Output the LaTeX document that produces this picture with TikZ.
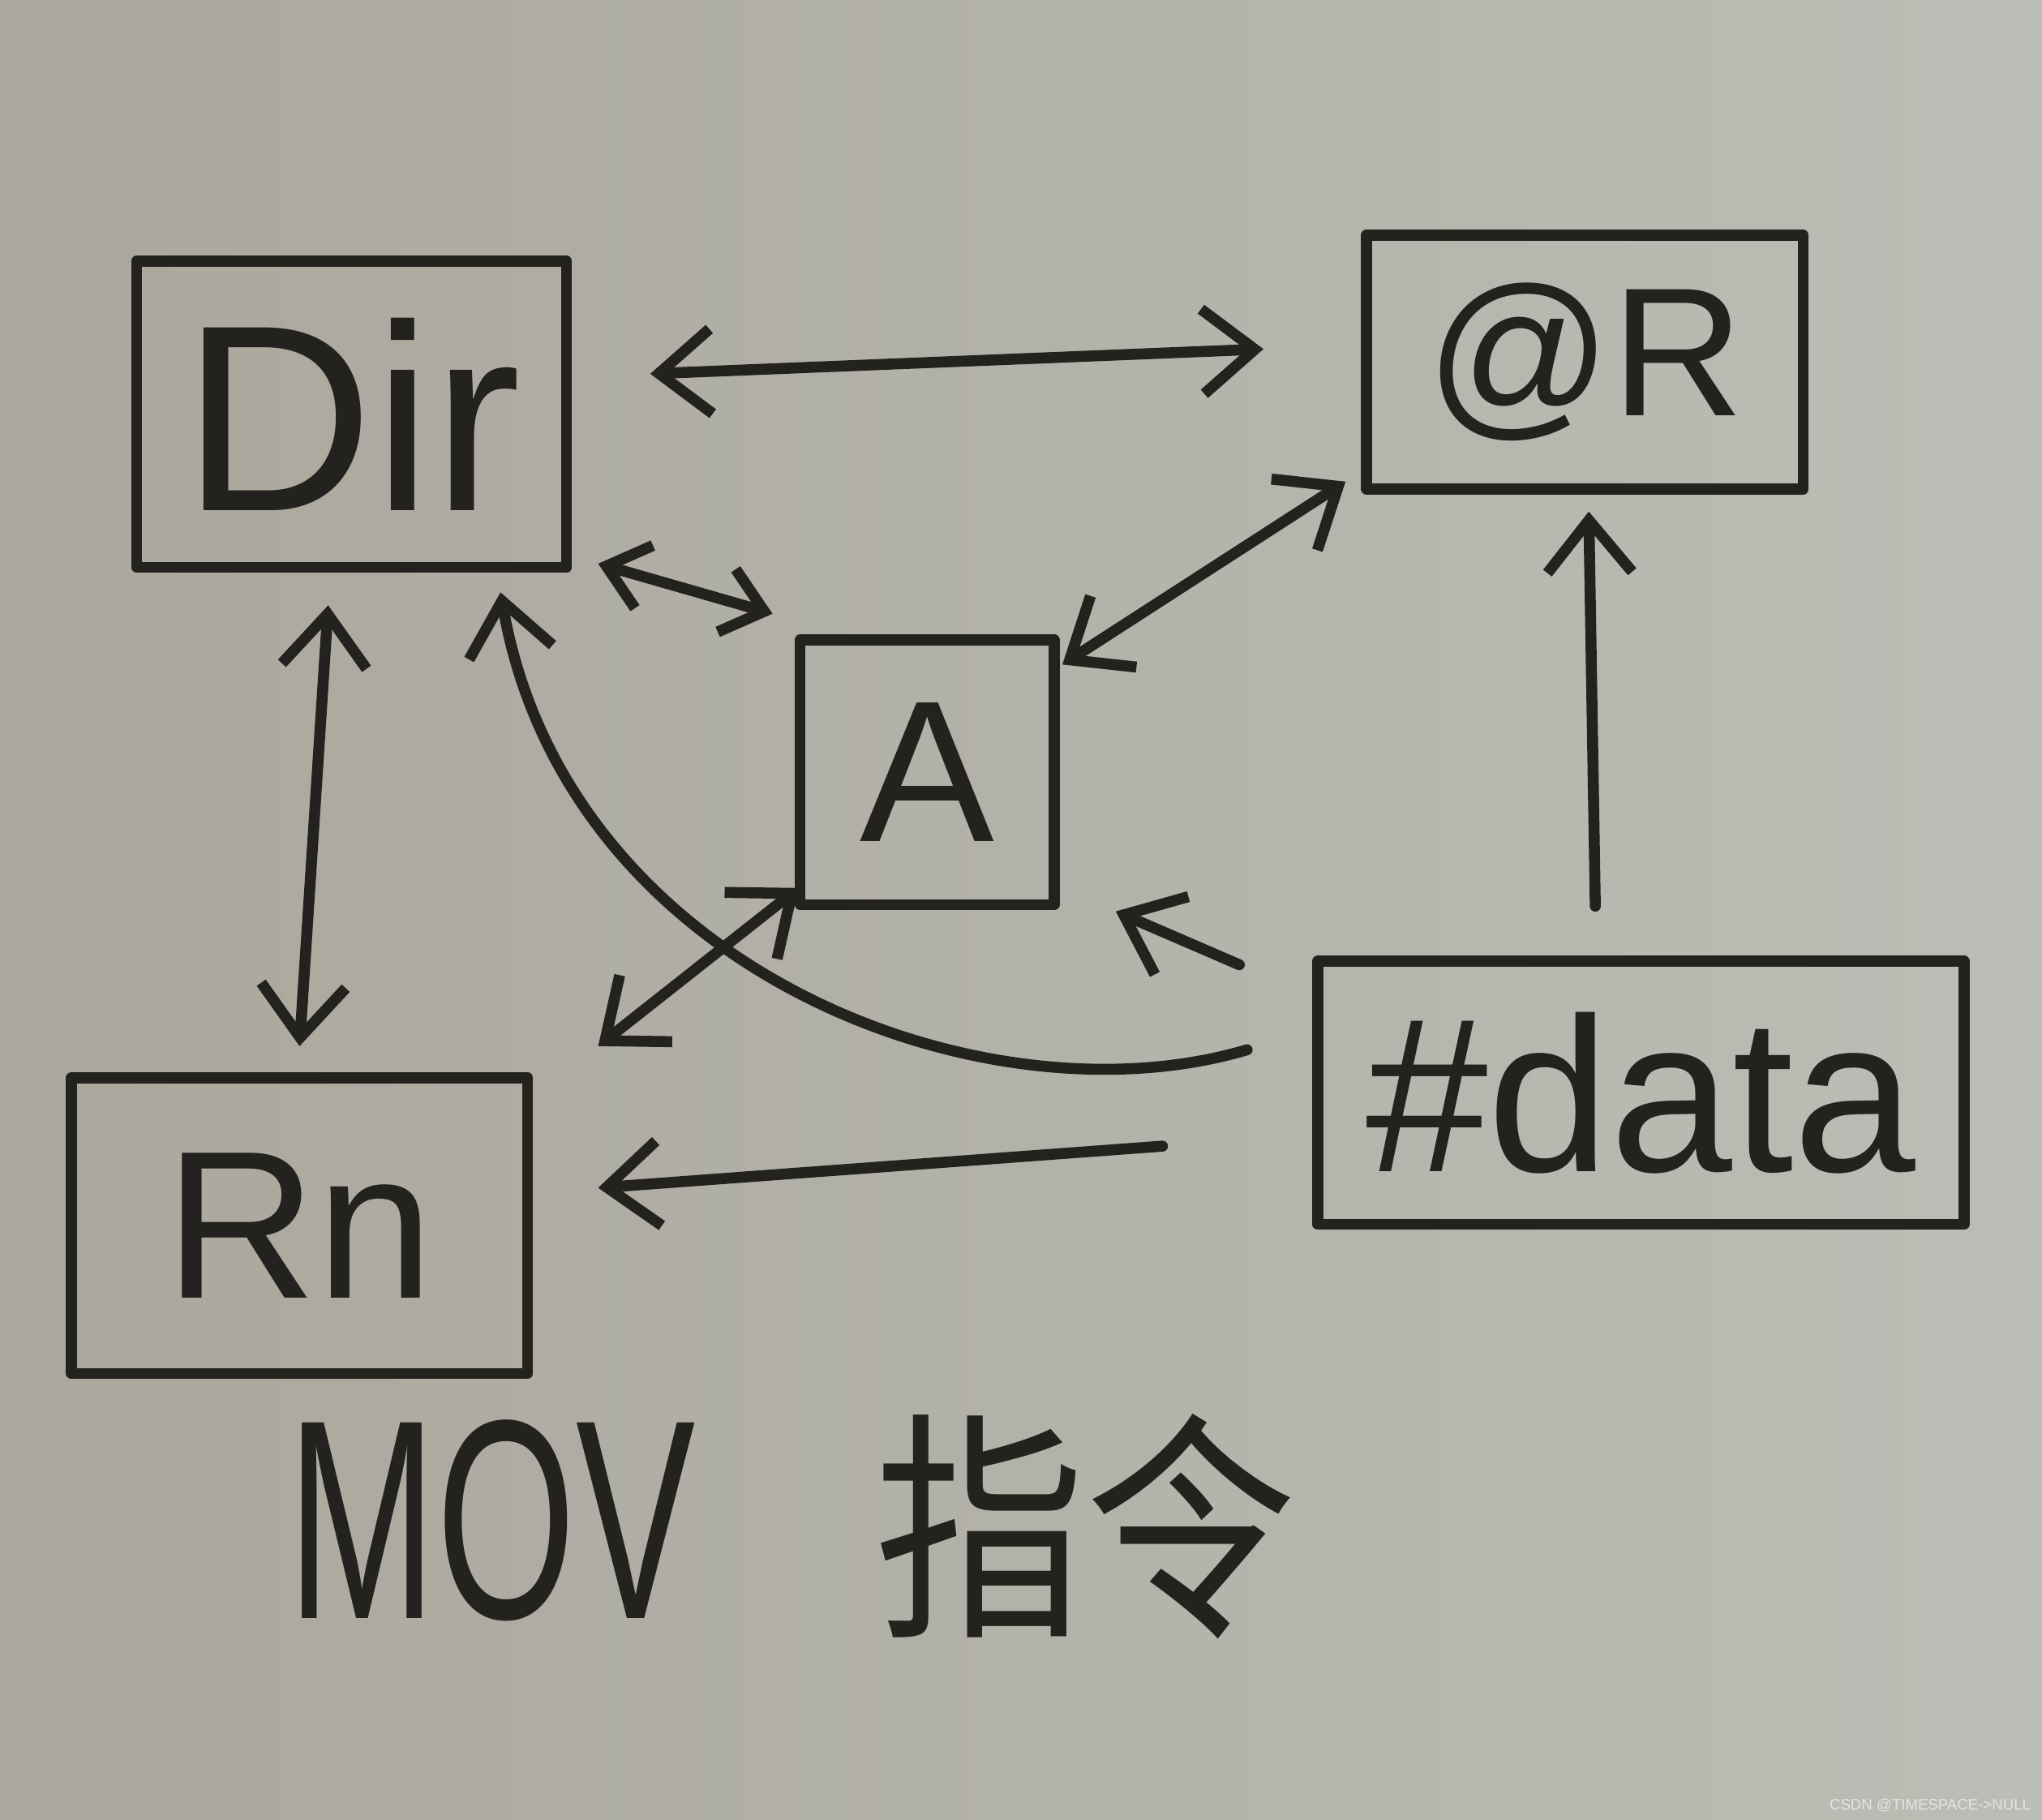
\documentclass[tikz,border=0pt]{standalone}
\usepackage{fontspec}
\setmainfont{Liberation Sans}
\newfontfamily\cjkfont{Noto Sans CJK SC}
\usetikzlibrary{arrows.meta}
\definecolor{ink}{RGB}{36,34,30}
\definecolor{paperleft}{RGB}{170,167,156}
\definecolor{paperright}{RGB}{188,189,182}
\definecolor{markgray}{RGB}{230,230,224}
\begin{document}
\begin{tikzpicture}[x=0.01cm,y=-0.01cm,
	pen/.style={draw=ink,line width=2.4pt,line cap=round,line join=round},
	box/.style={pen,rectangle,inner sep=0pt,text=ink},
	both/.style={pen,{Straight Barb[length=4mm,width=6.5mm]}-{Straight Barb[length=4mm,width=6.5mm]}},
	one/.style={pen,-{Straight Barb[length=4mm,width=6.5mm]}}]
		\useasboundingbox (0,0) rectangle (1568,1397);
		\shade[left color=paperleft,right color=paperright] (0,0) rectangle (1568,1397);
		\node[box,minimum width=3.3cm,minimum height=2.35cm,font=\fontsize{58}{58}\selectfont] (dir) at (270,318) {Dir};
		\node[box,minimum width=3.35cm,minimum height=1.95cm,font=\fontsize{40}{40}\selectfont] (atR) at (1217,278) {@R};
		\node[box,minimum width=1.95cm,minimum height=2.03cm,font=\fontsize{44}{44}\selectfont] (acc) at (712,593) {A};
		\node[box,minimum width=3.5cm,minimum height=2.27cm,font=\fontsize{46}{46}\selectfont] (rn) at (230,941) {Rn};
		\node[box,minimum width=4.96cm,minimum height=2.02cm,font=\fontsize{48}{48}\selectfont] (data) at (1260,839) {\#data};
		\draw[both] ([shift={(60,-31)}]dir.east) -- ([shift={(-75,-10)}]atR.west);
		\draw[pen,{Straight Barb[length=3mm,width=5mm]}-{Straight Barb[length=3mm,width=5mm]}] ([shift={(20,-7)}]dir.south east) -- ([shift={(-17,-16)}]acc.north west);
		\draw[both] ([shift={(2,23)}]acc.north east) -- ([shift={(-12,-10)}]atR.south west);
		\draw[both] ([shift={(-18,25)}]dir.south) -- ([shift={(0,-20)}]rn.north);
		\draw[both] ([shift={(3,-17)}]acc.south west) -- ([shift={(50,-20)}]rn.north east);
		\draw[one] ([shift={(-35,-38)}]data.north) -- ([shift={(3,13)}]atR.south);
		\draw[one] ([shift={(-56,7)}]data.north west) -- ([shift={(43,1)}]acc.south east);
		\draw[one] ([shift={(-50,-33)}]data.west) .. controls +(-202,60) and +(50,290) .. ([shift={(-55,15)}]dir.south east);
		\draw[one] ([shift={(-115,41)}]data.west) -- ([shift={(50,-29)}]rn.east);
		\node[text=ink,font=\fontsize{46}{46}\selectfont] (title) at (608,1172) {\scalebox{0.85}[1.35]{MOV}\hspace{0.85em}\scalebox{1}[1.15]{\cjkfont 指令}};
		\node[anchor=east,inner sep=0pt,text=markgray,font=\fontsize{3.3}{4}\selectfont] (mark) at (1560,1386) {CSDN @TIMESPACE->NULL};
\end{tikzpicture}
\end{document}
